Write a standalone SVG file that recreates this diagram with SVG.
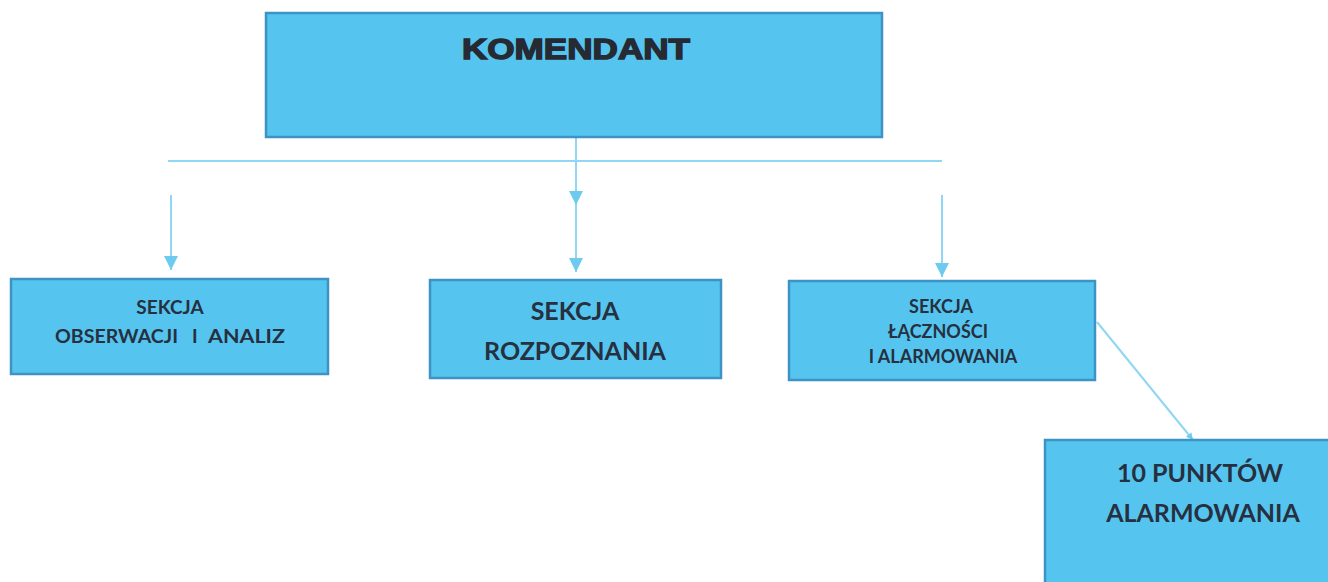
<svg xmlns="http://www.w3.org/2000/svg" width="1328" height="582" viewBox="0 0 1328 582">
<style>
.box{fill:#55c5ef;stroke:#3d93c4;stroke-width:2.5}
.t{font-family:Lato,"Open Sans","Liberation Sans",sans-serif;font-weight:bold;fill:#263040;text-anchor:middle}
.c{stroke:#8fd7f2;stroke-width:2;fill:none}
</style>
<defs>
<marker id="ah" viewBox="0 0 10 10" refX="10" refY="5" markerWidth="7" markerHeight="8" markerUnits="userSpaceOnUse" orient="auto">
<path d="M0,0 L10,5 L0,10 Z" fill="#6ccbef"/>
</marker>
<marker id="ah2" viewBox="0 0 10 10" refX="10" refY="5" markerWidth="14" markerHeight="14" markerUnits="userSpaceOnUse" orient="auto">
<path d="M0,0 L10,5 L0,10 Z" fill="#6ccbef"/>
</marker>
</defs>
<rect width="1328" height="582" fill="#ffffff"/>
<g id="connectors">
<line class="c" x1="168" y1="161" x2="942" y2="161"/>
<line class="c" x1="576" y1="137" x2="576" y2="205" marker-end="url(#ah2)"/>
<line class="c" x1="576" y1="205" x2="576" y2="272" marker-end="url(#ah2)"/>
<line class="c" x1="171" y1="195" x2="171" y2="270" marker-end="url(#ah2)"/>
<line class="c" x1="942" y1="195" x2="942" y2="277" marker-end="url(#ah2)"/>
<line class="c" x1="1097" y1="322" x2="1193" y2="440" marker-end="url(#ah)"/>
</g>
<g id="komendant">
<rect class="box" x="266" y="13" width="616" height="124"/>
<text x="462" y="59" font-family="'Liberation Sans',Arial,sans-serif" font-weight="bold" font-size="29" fill="#262a33" stroke="#262a33" stroke-width="1.4" textLength="228" lengthAdjust="spacingAndGlyphs">KOMENDANT</text>
</g>
<g id="sekcja-obserwacji">
<rect class="box" x="11" y="279" width="317" height="95"/>
<text class="t" x="170" y="314" font-size="19">SEKCJA</text>
<text class="t" font-size="19" y="343" style="text-anchor:start"><tspan x="55" textLength="123" lengthAdjust="spacingAndGlyphs">OBSERWACJI</tspan><tspan x="192">I</tspan><tspan x="208" textLength="77" lengthAdjust="spacingAndGlyphs">ANALIZ</tspan></text>
</g>
<g id="sekcja-rozpoznania">
<rect class="box" x="430" y="280" width="291" height="98"/>
<text class="t" x="575" y="320" font-size="25">SEKCJA</text>
<text class="t" x="575" y="360" font-size="25">ROZPOZNANIA</text>
</g>
<g id="sekcja-lacznosci">
<rect class="box" x="789" y="281" width="306" height="99"/>
<text class="t" x="941" y="313" font-size="18">SEKCJA</text>
<text class="t" x="938" y="338" font-size="18">ŁĄCZNOŚCI</text>
<text class="t" x="943" y="363" font-size="18">I ALARMOWANIA</text>
</g>
<g id="punkty-alarmowania">
<rect class="box" x="1045" y="440" width="290" height="150"/>
<text class="t" x="1200" y="482" font-size="25">10 PUNKTÓW</text>
<text class="t" x="1203" y="522" font-size="25">ALARMOWANIA</text>
</g>
</svg>
